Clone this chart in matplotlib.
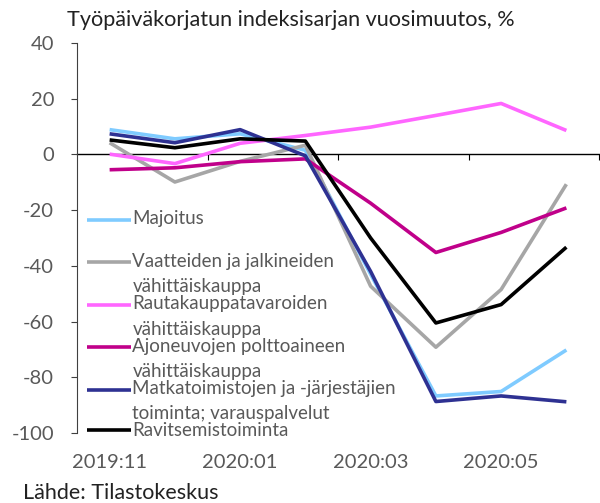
import matplotlib

matplotlib.use("Agg")

import matplotlib.pyplot as plt
from matplotlib.legend_handler import HandlerLine2D

plt.rcParams["font.family"] = ["Lato", "DejaVu Sans"]
plt.rcParams["axes.unicode_minus"] = False

# months on the category axis
months = ["2019:11", "2019:12", "2020:01", "2020:02", "2020:03", "2020:04", "2020:05", "2020:06"]
shown_months = ["2019:11", "2020:01", "2020:03", "2020:05"]

majoitus = [8.9, 5.6, 7.4, 1.5, -43.0, -86.7, -85.1, -70.2]
vaatteet = [4.2, -9.9, -2.5, 3.3, -47.3, -69.2, -48.5, -10.7]
rauta = [0.1, -3.3, 4.0, 6.8, 9.8, 14.0, 18.3, 8.6]
polttoaine = [-5.5, -4.8, -2.6, -1.6, -17.5, -35.2, -28.0, -19.2]
matkatoimistot = [7.4, 4.2, 8.9, -0.5, -42.0, -88.7, -86.7, -88.8]
ravitsemis = [5.2, 2.4, 5.6, 4.8, -30.0, -60.5, -53.9, -33.3]

series_labels = [
    "Majoitus\n ",
    "Vaatteiden ja jalkineiden\nvähittäiskauppa",
    "Rautakauppatavaroiden\nvähittäiskauppa",
    "Ajoneuvojen polttoaineen\nvähittäiskauppa",
    "Matkatoimistojen ja -järjestäjien\ntoiminta; varauspalvelut",
    "Ravitsemistoiminta",
]
series_values = [majoitus, vaatteet, rauta, polttoaine, matkatoimistot, ravitsemis]
series_colors = ["#7fcbff", "#a6a6a6", "#ff66ff", "#c0008a", "#2e3192", "#000000"]

y_min, y_max = -100, 40
grey_text = "#595959"
legend_size = 13.5


class FirstLineHandler(HandlerLine2D):
    # Excel puts the legend key next to the first line of a wrapped label
    def create_artists(self, legend, orig_handle, xdescent, ydescent,
                       width, height, fontsize, trans):
        artists = super().create_artists(legend, orig_handle, xdescent, ydescent,
                                         width, height, fontsize, trans)
        extra_lines = orig_handle.get_label().count("\n")
        for art in artists:
            art.set_ydata([y + 0.64 * fontsize * extra_lines for y in art.get_ydata()])
        return artists


fig = plt.figure(figsize=(6.0, 5.03), dpi=100)
ax = fig.add_axes([77 / 600, 70 / 503, 522 / 600, 390 / 503])

x = list(range(len(months)))
for label, values, color in zip(series_labels, series_values, series_colors):
    ax.plot(x, values, color=color, linewidth=2.6, label=label, solid_capstyle="butt")

ax.set_xlim(-0.5, len(months) - 0.5)
ax.set_ylim(y_min, y_max)
ax.set_yticks(range(y_min, y_max + 1, 20))
ax.tick_params(axis="y", direction="out", length=4.5, width=0.8, pad=12,
               labelsize=14.5, labelcolor=grey_text, color="#404040")

ax.set_xticks([months.index(m) for m in shown_months])
ax.set_xticklabels(shown_months)
ax.tick_params(axis="x", length=0, pad=15, labelsize=14.5, labelcolor=grey_text)

for side in ["top", "right", "bottom"]:
    ax.spines[side].set_visible(False)
ax.spines["left"].set_color("#404040")
ax.spines["left"].set_linewidth(0.8)

# zero line with ticks between every second month
zero_axis = ax.secondary_xaxis((0 - y_min) / (y_max - y_min))
zero_axis.set_xticks([i + 1.5 for i in range(0, len(months), 2)])
zero_axis.tick_params(direction="in", length=4, width=0.8, labeltop=False, color="#000000")
zero_axis.spines["top"].set_linewidth(1.0)

leg = ax.legend(loc="upper left", bbox_to_anchor=(0.002, 0.595), frameon=False,
                fontsize=legend_size, labelcolor=grey_text, handlelength=2.3,
                handletextpad=0.1, borderpad=0, labelspacing=0.0,
                handler_map={plt.Line2D: FirstLineHandler()})
for text in leg.get_texts():
    text.set_linespacing(1.6)

fig.text(67 / 600, 1 - 20 / 503, "Työpäiväkorjatun indeksisarjan vuosimuutos, %",
         fontsize=15.6, color="#222222", va="center", ha="left")
fig.text(23 / 600, 1 - 493 / 503, "Lähde: Tilastokeskus",
         fontsize=15.5, color="#222222", va="center", ha="left")

fig.savefig("out.png", dpi=100)
